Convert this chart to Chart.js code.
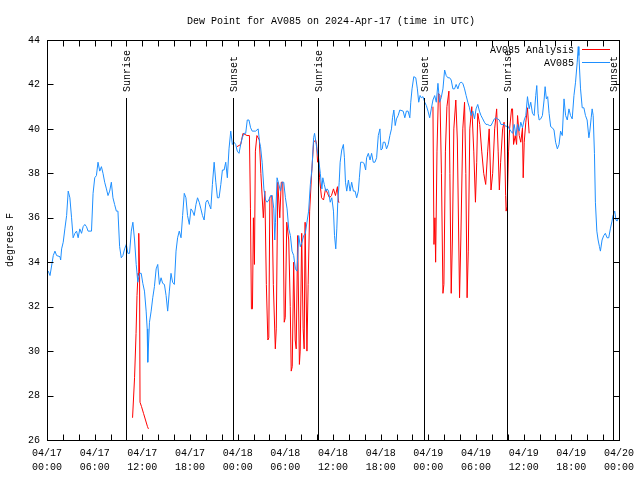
<!DOCTYPE html>
<html>
<head>
<meta charset="utf-8">
<script src="https://cdn.jsdelivr.net/npm/chart.js@4/dist/chart.umd.min.js"></script>
<style>
  html, body { margin: 0; padding: 0; background: #fff; }
  canvas { display: block; }
</style>
</head>
<body>
<canvas id="dewChart" width="640" height="480"></canvas>
<script>
// hours since 2024-04-17 00:00 UTC
const blueHours = [0.16,0.38,0.79,1.00,1.21,1.63,1.72,1.84,2.04,2.25,2.47,2.67,2.88,3.09,3.29,3.51,3.72,3.92,4.13,4.35,4.55,4.76,4.97,5.17,5.60,5.80,6.01,6.22,6.42,6.64,6.85,7.05,7.26,7.48,7.68,7.89,8.10,8.30,8.51,8.73,8.93,9.14,9.35,9.55,9.77,9.98,10.18,10.39,10.61,10.81,11.02,11.23,11.43,11.65,11.86,12.06,12.27,12.48,12.61,12.68,12.90,13.11,13.31,13.52,13.74,13.94,14.15,14.36,14.56,14.78,14.99,15.19,15.40,15.61,15.81,16.03,16.24,16.44,16.65,16.87,17.07,17.28,17.49,17.69,17.91,18.12,18.32,18.53,18.75,18.95,19.16,19.37,19.57,19.78,20.00,20.20,20.41,20.62,20.82,21.04,21.25,21.45,21.66,21.88,22.08,22.29,22.50,22.70,22.91,23.13,23.33,23.54,23.75,23.95,24.17,24.38,24.58,24.79,25.01,25.21,25.42,25.63,25.83,26.26,26.58,26.76,26.88,27.08,27.30,27.51,27.71,27.92,28.14,28.34,28.55,28.67,28.76,28.96,29.18,29.39,29.59,29.80,30.01,30.22,30.43,30.64,30.84,31.05,31.27,31.47,31.68,31.89,32.09,32.31,32.52,32.72,32.93,33.15,33.35,33.56,33.68,33.85,33.97,34.18,34.40,34.60,34.72,34.90,35.10,35.27,35.44,35.65,35.85,36.06,36.19,36.35,36.48,36.60,36.78,36.90,37.10,37.31,37.44,37.57,37.73,37.94,38.15,38.35,38.57,38.78,38.98,39.19,39.32,39.48,39.69,39.91,40.11,40.23,40.45,40.66,40.86,41.07,41.28,41.49,41.70,41.91,42.04,42.20,42.32,42.54,42.74,42.95,43.16,43.36,43.49,43.66,43.83,43.99,44.20,44.41,44.83,45.04,45.24,45.45,45.67,45.79,45.95,46.17,46.42,46.62,46.79,46.96,47.12,47.33,47.55,47.75,47.96,48.17,48.37,48.58,48.80,49.00,49.21,49.42,49.62,49.84,50.05,50.25,50.46,50.68,50.88,51.09,51.30,51.50,51.72,51.93,52.13,52.34,52.56,52.76,52.97,53.18,53.38,53.60,53.81,54.01,54.22,54.43,54.63,54.85,55.06,55.26,55.47,55.69,55.89,56.10,56.31,56.51,56.72,56.94,57.14,57.56,57.76,57.98,58.19,58.39,58.60,58.81,59.02,59.23,59.44,59.64,59.85,60.07,60.27,60.48,60.69,60.89,61.11,61.32,61.52,61.65,61.82,61.95,62.15,62.36,62.57,62.70,62.86,63.02,63.20,63.40,63.61,63.82,64.02,64.24,64.45,64.65,64.86,65.08,65.28,65.49,65.70,65.90,66.11,66.33,66.53,66.74,66.87,66.95,67.16,67.37,67.58,67.78,67.99,68.21,68.33,68.50,68.62,68.75,68.91,69.03,69.21,69.37,69.54,69.66,69.87,70.08,70.28,70.50,70.71,70.91,71.12,71.25,71.46,71.62,71.75,71.94];
const blueDew = [33.6,33.4,34.3,34.5,34.3,34.25,34.1,34.6,34.9,35.5,36.1,37.2,36.9,36.0,35.1,35.3,35.4,35.1,35.5,35.3,35.6,35.7,35.6,35.4,35.4,37.1,37.8,37.9,38.5,38.1,38.3,38.0,37.6,37.3,37.0,37.2,37.6,36.9,36.6,36.3,36.3,34.7,34.2,34.3,34.6,34.8,34.4,34.4,35.4,35.8,35.0,33.9,33.1,33.5,33.5,33.05,32.7,31.8,31.0,29.5,31.3,31.8,32.4,32.9,33.7,33.9,33.0,33.3,33.05,33.0,32.5,31.8,32.7,33.5,33.1,33.0,34.5,35.1,35.4,35.1,36.1,37.1,36.9,36.1,35.7,36.4,36.3,36.1,36.6,36.9,36.7,36.4,36.1,35.9,36.7,36.8,36.6,36.4,37.5,38.5,37.6,36.9,36.9,37.5,38.15,38.15,38.5,37.8,39.1,39.9,39.3,39.4,39.3,39.0,38.9,39.3,39.6,39.8,39.8,40.4,40.4,40.05,39.9,39.9,40.0,39.4,39.2,38.5,37.3,36.8,36.7,36.8,37.0,37.0,36.4,35.0,35.8,37.8,37.5,37.2,37.6,37.6,36.9,36.4,35.5,35.2,34.5,34.3,33.7,33.6,35.2,34.7,34.9,35.2,35.3,35.8,36.3,37.5,38.2,39.6,39.8,39.4,39.1,38.7,38.0,37.3,37.8,37.5,37.2,37.3,37.2,36.7,36.9,36.3,35.2,34.6,35.5,36.7,37.6,38.5,39.05,39.3,38.7,37.6,37.2,37.7,37.2,37.6,37.2,37.2,36.9,37.2,37.8,38.5,38.5,38.45,38.15,38.7,38.9,38.6,38.9,38.5,38.5,38.7,39.7,40.0,39.05,39.1,39.4,39.4,39.1,39.3,39.7,40.0,40.5,40.85,40.15,40.45,40.6,40.85,40.8,40.5,40.8,40.8,40.5,41.2,41.8,42.35,42.3,41.8,41.2,41.5,41.4,41.45,41.2,41.05,40.8,40.5,40.9,41.3,41.5,41.2,42.05,41.2,41.4,41.8,42.65,42.4,42.3,42.3,42.2,41.8,41.8,42.0,41.8,42.05,42.1,42.05,41.8,41.5,41.2,40.95,40.6,40.8,40.45,40.9,41.1,40.8,40.6,40.45,40.3,40.2,40.2,40.15,40.15,40.3,40.45,40.5,40.45,40.4,40.2,40.2,40.1,40.15,40.0,39.9,39.8,40.2,39.7,40.2,39.9,40.3,40.05,40.4,40.6,41.45,40.9,41.2,40.7,40.6,41.5,41.95,40.7,40.4,40.45,40.6,41.3,41.9,41.35,41.45,40.7,40.1,40.05,39.95,39.4,39.1,39.3,39.9,39.7,41.35,40.6,40.4,40.9,40.6,40.45,41.5,42.1,43.0,43.7,43.3,41.8,40.95,40.95,40.6,40.4,39.6,39.9,40.5,40.9,40.6,38.9,36.7,35.4,35.0,34.7,34.5,35.0,35.2,35.3,35.1,35.1,35.5,35.85,36.1,36.3,35.9,35.85,36.0];

// analysis series, null marks a break between runs
const redHours = [10.77,11.02,11.21,11.33,11.46,11.52,11.58,11.65,11.71,11.90,12.15,12.40,12.65,12.77,12.77,
  23.92,24.38,24.67,25.17,25.48,25.61,25.73,25.86,25.98,26.11,26.23,26.42,26.73,26.92,27.23,27.42,27.61,27.80,27.92,28.05,28.30,28.49,28.74,28.86,29.05,29.30,29.49,29.68,29.86,29.99,30.18,30.43,30.62,30.74,30.87,31.05,31.24,31.37,31.55,31.77,31.87,32.06,32.24,32.37,32.49,32.72,32.87,33.06,33.31,33.56,33.81,33.94,34.06,34.18,34.31,34.44,34.56,34.81,35.06,35.31,35.56,35.81,36.06,36.31,36.56,36.69,36.81,36.81,
  48.58,48.71,48.83,48.92,49.09,49.27,49.46,49.65,49.84,49.96,50.15,50.34,50.59,50.71,50.88,51.03,51.21,51.46,51.65,51.93,52.09,52.34,52.56,52.72,52.88,53.03,53.22,53.47,53.72,53.93,54.09,54.22,54.47,54.72,54.97,55.22,55.47,55.66,55.89,56.10,56.35,56.60,56.79,56.94,57.10,57.35,57.54,57.73,57.79,57.92,58.10,58.23,58.48,58.60,58.73,58.94,59.11,59.23,59.44,59.64,59.85,59.94,60.07,60.27,60.48,60.69];
const redDew = [27.0,28.8,30.8,32.5,33.5,33.4,35.3,33.6,27.7,27.5,27.2,26.9,26.6,26.5,null,
  39.2,39.3,39.8,39.7,39.7,36.4,31.9,31.9,36.0,33.9,39.0,39.7,39.5,38.0,36.0,37.2,33.0,30.5,30.6,36.9,37.0,33.0,30.1,31.0,37.6,36.0,37.6,37.6,31.3,31.5,35.8,35.0,32.0,29.1,29.3,34.0,30.5,30.1,35.2,29.4,30.0,35.3,31.0,30.1,35.8,30.0,33.0,36.3,38.0,39.4,39.5,39.3,38.5,38.6,37.8,37.3,36.9,36.8,37.3,37.1,36.9,37.0,37.3,37.0,37.4,36.7,36.7,null,
  41.0,34.8,36.0,34.0,39.0,41.6,41.5,38.0,32.6,33.0,39.0,41.0,41.7,38.0,32.6,35.0,40.0,41.3,39.5,32.4,35.0,40.0,41.2,38.0,32.4,34.5,40.0,41.0,39.0,36.7,38.5,40.7,40.2,39.0,38.0,37.5,39.0,40.0,37.25,38.0,40.0,40.9,39.0,37.25,38.5,40.0,40.3,37.0,36.3,36.5,39.0,40.0,40.9,40.9,39.3,39.7,39.3,40.6,39.7,39.4,40.05,37.8,39.4,40.3,40.95,39.8];

const sunHours = [9.93, 23.42, 34.06, 47.46, 57.85, 71.25];
const sunLabels = ['Sunrise', 'Sunset', 'Sunrise', 'Sunset', 'Sunrise', 'Sunset'];
const tickDates = ['04/17', '04/17', '04/17', '04/17', '04/18', '04/18', '04/18', '04/18', '04/19', '04/19', '04/19', '04/19', '04/20'];
const tickTimes = ['00:00', '06:00', '12:00', '18:00'];
const titleText = 'Dew Point for AV085 on 2024-Apr-17 (time in UTC)';

const FONT = "'Liberation Mono', 'DejaVu Sans Mono', monospace";

function pairs(hours, vals) {
  return hours.map((h, i) => ({ x: h, y: vals[i] }));
}

// title, frame, inward ticks, sun lines and legend, gnuplot style
const decor = {
  id: 'decor',
  afterDatasetsDraw(chart) {
    const { ctx, chartArea: a, scales: { x, y } } = chart;
    ctx.save();
    ctx.strokeStyle = '#000';
    ctx.lineWidth = 1;
    ctx.font = '10px ' + FONT;
    ctx.fillStyle = '#000';

    ctx.textAlign = 'center';
    ctx.textBaseline = 'middle';
    ctx.fillText(titleText, (a.left + a.right) / 2 - 2, 21);

    sunHours.forEach((h, i) => {
      const px = Math.round(x.getPixelForValue(h)) + 0.5;
      ctx.beginPath();
      ctx.moveTo(px, 98);
      ctx.lineTo(px, a.bottom);
      ctx.stroke();
      ctx.save();
      ctx.translate(px + 1, 92);
      ctx.rotate(-Math.PI / 2);
      ctx.textAlign = 'left';
      ctx.textBaseline = 'middle';
      ctx.fillText(sunLabels[i], 0, 0);
      ctx.restore();
    });

    const L = Math.round(a.left) + 0.5, R = Math.round(a.right) + 0.5;
    const T = Math.round(a.top) + 0.5, B = Math.round(a.bottom) + 0.5;
    ctx.beginPath();
    for (let v = 26; v <= 44; v += 2) {
      const py = Math.round(y.getPixelForValue(v)) + 0.5;
      ctx.moveTo(L, py); ctx.lineTo(L + 6, py);
      ctx.moveTo(R, py); ctx.lineTo(R - 6, py);
    }
    for (let h = 0; h <= 72; h += 2) {
      const px = Math.round(x.getPixelForValue(h)) + 0.5;
      ctx.moveTo(px, B); ctx.lineTo(px, B - 6);
      ctx.moveTo(px, T); ctx.lineTo(px, T + 6);
    }
    ctx.stroke();
    ctx.strokeRect(L, T, R - L, B - T);

    // legend
    ctx.textAlign = 'right';
    ctx.textBaseline = 'middle';
    const items = [['AV085 Analysis', '#ff0000', 49], ['AV085', '#1e8fff', 62]];
    items.forEach(([name, col, ly]) => {
      ctx.fillStyle = '#000';
      ctx.fillText(name, 574, ly + 1);
      ctx.fillStyle = col;
      ctx.fillRect(582, ly, 28, 1);
    });
    ctx.restore();
  }
};

new Chart(document.getElementById('dewChart'), {
  type: 'line',
  data: {
    datasets: [
      { label: 'AV085', data: pairs(blueHours, blueDew), borderColor: '#1e8fff', borderWidth: 1, pointRadius: 0, tension: 0 },
      { label: 'AV085 Analysis', data: pairs(redHours, redDew), borderColor: '#ff0000', borderWidth: 1, pointRadius: 0, tension: 0, spanGaps: false }
    ]
  },
  options: {
    responsive: false,
    animation: false,
    layout: { padding: { top: 40, right: 18 } },
    plugins: {
      legend: { display: false },
      tooltip: { enabled: false },
      title: { display: false }
    },
    scales: {
      x: {
        type: 'linear',
        min: 0,
        max: 72,
        grid: { display: false, drawTicks: false },
        border: { display: false },
        afterBuildTicks: s => { s.ticks = tickDates.map((d, i) => ({ value: i * 6 })); },
        afterFit: s => { s.height = 40; },
        ticks: {
          color: '#000',
          font: { family: FONT, size: 10, lineHeight: 1.4 },
          padding: 6,
          maxRotation: 0,
          autoSkip: false,
          callback: (v, i) => [tickDates[i], tickTimes[i % 4]]
        }
      },
      y: {
        min: 26,
        max: 44,
        grid: { display: false, drawTicks: false },
        border: { display: false },
        afterFit: s => { s.width = 47; },
        ticks: {
          stepSize: 2,
          color: '#000',
          font: { family: FONT, size: 10 },
          padding: 7
        },
        title: {
          display: true,
          text: 'degrees F',
          color: '#000',
          font: { family: FONT, size: 10 },
          padding: { top: 4, bottom: 0 }
        }
      }
    }
  },
  plugins: [decor]
});
</script>
</body>
</html>
